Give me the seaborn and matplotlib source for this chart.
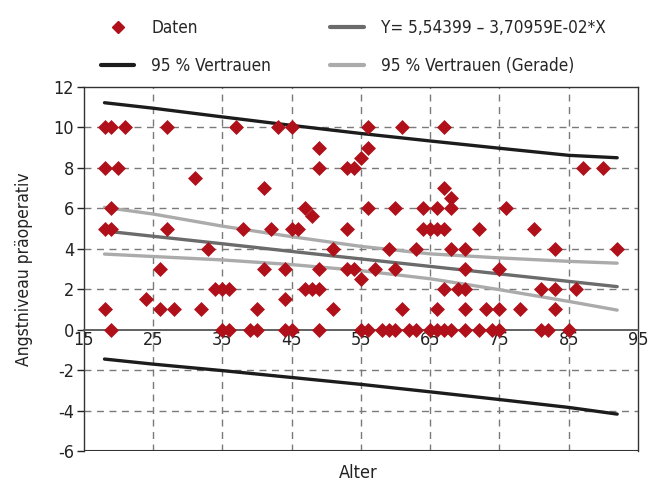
import matplotlib
matplotlib.use("Agg")
import matplotlib.pyplot as plt
from matplotlib.lines import Line2D
import seaborn as sns
import pandas as pd

# scatter data (age, anxiety level)
alter = [18, 19, 21, 27, 37, 43, 45, 56, 61, 67,
         49, 56,
         55,
         18, 20, 49, 53, 54, 87, 90,
         31,
         41, 67,
         68,
         19, 47, 56, 60, 64, 66, 68, 76,
         48,
         18, 19, 27, 38, 42, 45, 46, 53, 64, 65, 66, 67, 72, 80,
         33, 51, 59, 63, 68, 70, 83, 92,
         26, 41, 44, 49, 53, 54, 57, 60, 70, 75,
         55,
         34, 35, 36, 47, 48, 49, 67, 69, 70, 81, 83, 86,
         24, 44,
         18, 26, 28, 32, 40, 51, 61, 66, 70, 73, 75, 78, 83,
         19, 35, 36, 39, 40, 44, 45, 49, 55, 56, 58, 59, 60, 62, 63, 65, 66,
         67, 68, 70, 72, 74, 75, 81, 82, 85]
angst = [10] * 10 + [9] * 2 + [8.5] + [8] * 7 + [7.5] + [7] * 2 + [6.5] + \
        [6] * 8 + [5.6] + [5] * 14 + [4] * 8 + [3] * 10 + [2.5] + [2] * 12 + \
        [1.5] * 2 + [1] * 13 + [0] * 26

# fitted line and bands
linie_x = [18, 25, 35, 45, 55, 65, 75, 85, 92]
regression = [4.88, 4.62, 4.25, 3.87, 3.50, 3.13, 2.76, 2.39, 2.13]
gerade_oben = [6.05, 5.72, 5.12, 4.60, 4.12, 3.75, 3.55, 3.38, 3.29]
gerade_unten = [3.74, 3.62, 3.45, 3.22, 2.92, 2.52, 1.98, 1.40, 0.97]
vertrauen_oben = [11.22, 10.95, 10.52, 10.10, 9.70, 9.33, 8.97, 8.62, 8.50]
vertrauen_unten = [-1.45, -1.70, -2.02, -2.36, -2.70, -3.07, -3.45, -3.84, -4.17]

x_ticks = [15, 25, 35, 45, 55, 65, 75, 85, 95]
y_ticks = [-6, -4, -2, 0, 2, 4, 6, 8, 10, 12]

sns.set_style("white")
plt.rcParams['font.family'] = ['DejaVu Sans']
plt.rcParams['font.stretch'] = 'condensed'

rot = "#b0101a"
schwarz = "#1c1c1c"
dunkelgrau = "#6b6b6b"
hellgrau = "#ababab"

fig = plt.figure(figsize=(6.49, 4.83), dpi=100)
ax = fig.add_axes([0.129, 0.066, 0.854, 0.754])

df = pd.DataFrame({"Alter": alter, "Angst": angst})
lines = pd.DataFrame({"x": linie_x, "reg": regression,
                      "go": gerade_oben, "gu": gerade_unten,
                      "vo": vertrauen_oben, "vu": vertrauen_unten})

for col, c in [("vo", schwarz), ("vu", schwarz), ("go", hellgrau),
               ("gu", hellgrau), ("reg", dunkelgrau)]:
    sns.lineplot(data=lines, x="x", y=col, color=c, lw=2.4, ax=ax, zorder=2)

sns.scatterplot(data=df, x="Alter", y="Angst", marker="D", s=58, color=rot,
                edgecolor=rot, linewidth=0, ax=ax, zorder=3)

ax.set_xlim(15, 95)
ax.set_ylim(-6, 12)
ax.set_xticks(x_ticks)
ax.set_yticks(y_ticks)
ax.set_yticklabels([str(v) for v in y_ticks])

for v in x_ticks[1:-1]:
    ax.axvline(v, color="#7a7a7a", lw=1, ls=(0, (5, 4)), zorder=1)
for v in [-4, -2, 2, 4, 6, 8, 10]:
    ax.axhline(v, color="#7a7a7a", lw=1, ls=(0, (5, 4)), zorder=1)

ax.spines['bottom'].set_position(('data', 0))
ax.spines['bottom'].set_color("#555555")
ax.spines['bottom'].set_linewidth(1.3)
for s in ['left', 'top', 'right']:
    ax.spines[s].set_color("#333333")
    ax.spines[s].set_linewidth(1.0)
ax.axhline(-6, color="#333333", lw=1.5, zorder=4)

ax.tick_params(axis='x', length=0, pad=1, labelsize=13, colors="#222222")
ax.tick_params(axis='y', left=True, length=5, width=1, direction='out',
               labelsize=13, colors="#222222", pad=2)

ax.set_xlabel("")
ax.set_ylabel("Angstniveau präoperativ", fontsize=12.5, color="#222222",
              labelpad=15)
fig.text(0.552, 0.01, "Alter", ha="center", fontsize=13, color="#222222")

handles = [
    Line2D([], [], ls="none", marker="D", color=rot, markersize=6),
    Line2D([], [], color=schwarz, lw=3),
    Line2D([], [], color=dunkelgrau, lw=3),
    Line2D([], [], color=hellgrau, lw=3),
]
labels = ["Daten", "95 % Vertrauen", "Y= 5,54399 – 3,70959E-02*X",
          "95 % Vertrauen (Gerade)"]
fig.legend(handles, labels, ncol=2, loc="upper left",
           bbox_to_anchor=(0.132, 0.992), frameon=False, fontsize=12.3,
           handlelength=1.95, columnspacing=3.45, labelspacing=1.15,
           handletextpad=1.0)

fig.savefig("out.png", dpi=100)
